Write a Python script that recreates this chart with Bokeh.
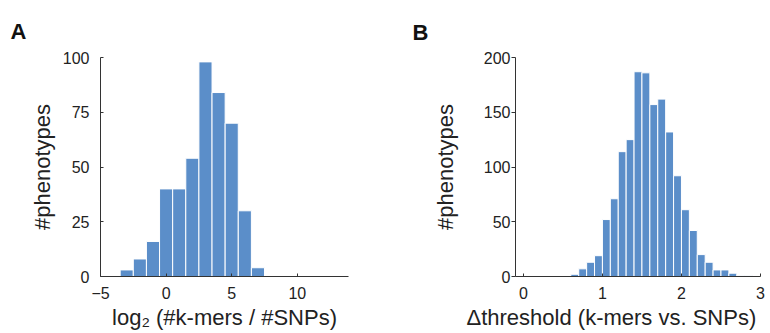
from bokeh.plotting import figure
from bokeh.layouts import row
from bokeh.models import FixedTicker, Range1d, Title
from bokeh.embed import file_html
from bokeh.resources import INLINE

# Panel A data: log2(#k-mers / #SNPs) histogram (bin width 1)
a_edges = [-3.5, -2.5, -1.5, -0.5, 0.5, 1.5, 2.5, 3.5, 4.5, 5.5, 6.5, 7.5]
a_counts = [3, 8, 16, 40, 40, 54, 98, 84, 70, 30, 4]
a_xticks = [-5, 0, 5, 10]
a_yticks = [0, 25, 50, 75, 100]

# Panel B data: delta threshold histogram (bin width 0.1)
b_edges = [0.6, 0.7, 0.8, 0.9, 1.0, 1.1, 1.2, 1.3, 1.4, 1.5, 1.6, 1.7, 1.8,
           1.9, 2.0, 2.1, 2.2, 2.3, 2.4, 2.5, 2.6, 2.7, 2.8, 2.9]
b_counts = [2, 7, 13, 19, 52, 71, 114, 125, 187, 186, 157, 162, 132,
            92, 61, 42, 20, 13, 6, 6, 3, 1, 1]
b_xticks = [0, 1, 2, 3]
b_yticks = [0, 50, 100, 150, 200]

BAR = "#5b8ec9"
TXT = "#222222"
FONT = "Liberation Sans"


def make_panel(letter, letter_x, edges, counts, xr, yr, xticks, yticks,
               border_left, border_right, border_top, border_bottom,
               width, height, title_standoff):
    p = figure(width=width, height=height, output_backend="svg",
               toolbar_location=None, x_range=Range1d(*xr), y_range=Range1d(*yr),
               min_border_left=border_left, min_border_right=border_right,
               min_border_top=border_top, min_border_bottom=border_bottom)
    p.outline_line_color = None
    p.xgrid.visible = False
    p.ygrid.visible = False
    p.background_fill_color = "white"
    p.border_fill_color = "white"
    p.quad(left=edges[:-1], right=edges[1:], top=counts, bottom=0,
           fill_color=BAR, line_color="white", line_width=1)
    for ax in (p.xaxis[0], p.yaxis[0]):
        ax.axis_line_color = "#333333"
        ax.major_tick_line_color = "#333333"
        ax.major_tick_in = 3
        ax.major_tick_out = 0
        ax.minor_tick_line_color = None
        ax.major_label_text_font = FONT
        ax.major_label_text_font_size = "16px"
        ax.major_label_text_color = TXT
        ax.axis_label_text_font = FONT
        ax.axis_label_text_font_style = "normal"
        ax.axis_label_text_font_size = "22px"
        ax.axis_label_text_color = TXT
    p.xaxis.ticker = FixedTicker(ticks=xticks)
    p.yaxis.ticker = FixedTicker(ticks=yticks)
    p.yaxis.axis_label = "#phenotypes"
    p.xaxis.major_label_standoff = 10
    p.xaxis.axis_label_standoff = 3
    p.yaxis.major_label_standoff = 11
    p.yaxis.axis_label_standoff = 5
    t = Title(text=letter, align="left", offset=letter_x - border_left,
              text_font=FONT, text_font_style="bold", text_font_size="22px",
              text_color="#111111", standoff=title_standoff)
    p.add_layout(t, "above")
    return p


# Panel A: frame spans x 100..348, y 57..276
pA = make_panel("A", 10, a_edges, a_counts, (-5, 13.9), (0, 100), a_xticks, a_yticks,
                100, 37, 57, 57, 385, 333, 28)
pA.xaxis.axis_label = "log\u2082 (#k-mers / #SNPs)"

# Panel B: frame spans x 515..760, y 55..277
pB = make_panel("B", 27, b_edges, b_counts, (-0.1, 3.0), (0, 200), b_xticks, b_yticks,
                130, 10, 55, 56, 385, 333, 26)
pB.yaxis.major_tick_in = 0
pB.yaxis.major_tick_out = 4
pB.yaxis.major_label_standoff = 1
pB.yaxis.axis_label_standoff = 23
# x-axis title of panel B sits left of the frame centre in the reference
pB.add_layout(Title(text="\u0394threshold (k-mers vs. SNPs)", align="left",
                    offset=466 - 385 - 130, text_font=FONT,
                    text_font_style="normal", text_font_size="22px",
                    text_color=TXT, standoff=3), "below")

layout = row(pA, pB)
open("out.html", "w").write(file_html(layout, INLINE))
